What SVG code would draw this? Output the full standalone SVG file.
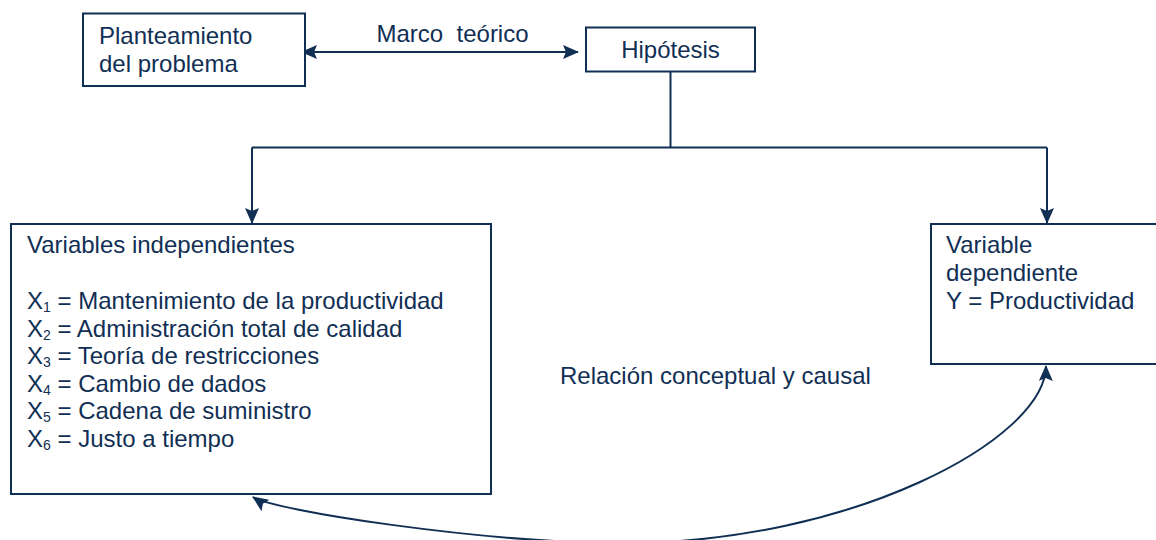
<svg xmlns="http://www.w3.org/2000/svg" width="1156" height="540" viewBox="0 0 1156 540">
  <style>
    .box { fill: #ffffff; stroke: #112f54; stroke-width: 2; }
    .lbl { font-family: "Liberation Sans", Arial, Helvetica, sans-serif; font-size: 24px; fill: #112f54; }
    .sub { font-size: 14px; }
    .wire { fill: none; stroke: #112f54; stroke-width: 2; }
  </style>
  <defs>
    <marker id="head" viewBox="0 0 16 14" refX="15" refY="7" markerWidth="16" markerHeight="14" markerUnits="userSpaceOnUse" orient="auto-start-reverse">
      <path d="M0,0 L16,7 L0,14 L3,7 z" fill="#112f54"/>
    </marker>
  </defs>
  <rect width="1156" height="540" fill="#ffffff"/>

  <!-- connectors -->
  <g id="connectors">
    <path class="wire" d="M 302,52 H 578" marker-start="url(#head)" marker-end="url(#head)"/>
    <path class="wire" d="M 670.5,72 V 147.5" stroke-width="3"/>
    <path class="wire" d="M 252,147.5 H 1047"/>
    <path class="wire" d="M 252,147.5 V 223" marker-end="url(#head)"/>
    <path class="wire" d="M 1047,147.5 V 223" marker-end="url(#head)"/>
    <path class="wire" d="M 253,497 C 272,510 480,543 625,543 C 850,543 1045,440 1046,366" marker-start="url(#head)" marker-end="url(#head)"/>
  </g>

  <!-- problem statement -->
  <g id="planteamiento">
    <rect class="box" x="83" y="13.5" width="222" height="72.5"/>
    <text class="lbl" x="99" y="44">Planteamiento</text>
    <text class="lbl" x="99" y="72">del problema</text>
  </g>

  <g id="marco">
    <text class="lbl" x="376.5" y="42" xml:space="preserve">Marco  teórico</text>
  </g>

  <!-- hypothesis -->
  <g id="hipotesis">
    <rect class="box" x="586" y="27.5" width="169" height="44"/>
    <text class="lbl" x="670.5" y="58" text-anchor="middle">Hipótesis</text>
  </g>

  <!-- independent variables -->
  <g id="independientes">
    <rect class="box" x="11" y="224" width="480" height="270"/>
    <text class="lbl" x="27" y="253">Variables independientes</text>
    <text class="lbl" x="27" y="309">X<tspan class="sub" dy="3">1</tspan><tspan dy="-3" xml:space="preserve"> = Mantenimiento de la productividad</tspan></text>
    <text class="lbl" x="27" y="336.5">X<tspan class="sub" dy="3">2</tspan><tspan dy="-3" xml:space="preserve"> = Administración total de calidad</tspan></text>
    <text class="lbl" x="27" y="364">X<tspan class="sub" dy="3">3</tspan><tspan dy="-3" xml:space="preserve"> = Teoría de restricciones</tspan></text>
    <text class="lbl" x="27" y="391.5">X<tspan class="sub" dy="3">4</tspan><tspan dy="-3" xml:space="preserve"> = Cambio de dados</tspan></text>
    <text class="lbl" x="27" y="419">X<tspan class="sub" dy="3">5</tspan><tspan dy="-3" xml:space="preserve"> = Cadena de suministro</tspan></text>
    <text class="lbl" x="27" y="446.5">X<tspan class="sub" dy="3">6</tspan><tspan dy="-3" xml:space="preserve"> = Justo a tiempo</tspan></text>
  </g>

  <!-- dependent variable -->
  <g id="dependiente">
    <rect class="box" x="931" y="224" width="240" height="140"/>
    <text class="lbl" x="946" y="253">Variable</text>
    <text class="lbl" x="946" y="281">dependiente</text>
    <text class="lbl" x="946" y="309">Y = Productividad</text>
  </g>

  <g id="relacion">
    <text class="lbl" x="560" y="384">Relación conceptual y causal</text>
  </g>
</svg>
